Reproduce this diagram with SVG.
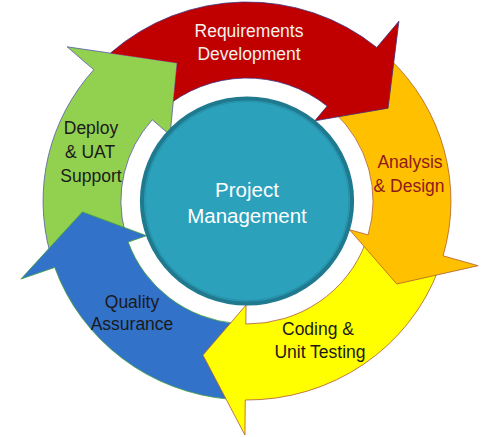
<svg xmlns="http://www.w3.org/2000/svg" width="500" height="437" viewBox="0 0 500 437">
<style>
.lbl{font-family:'Liberation Sans',Arial,sans-serif;font-size:17.5px;text-anchor:middle}
.arrow{stroke-width:0.8;stroke-linejoin:miter}
</style>
<defs>
<clipPath id="noGreenHead" clipPathUnits="userSpaceOnUse">
<path clip-rule="evenodd" d="M-300,-300H300V300H-300Z M-175.5,-154.2 L-68.2,-138.1 L-75.1,-66.0 Z"/>
</clipPath>
</defs>
<rect width="500" height="437" fill="#ffffff"/>
<g id="deploy">
<g transform="translate(247 201) scale(1.025 1)">
<path class="arrow" fill="#92D050" stroke="#5A5AA8" d="M-192.2,51.5 A199,199 0 0 1 -149.5,-131.3 L-175.5,-154.2 L-68.2,-138.1 L-75.1,-66.0 L-92.4,-81.2 A123,123 0 0 0 -118.8,31.8 Z"/>
</g>
<text class="lbl" fill="#1A1A1A" x="91" y="134">Deploy</text>
<text class="lbl" fill="#1A1A1A" x="90" y="158">&amp; UAT</text>
<text class="lbl" fill="#1A1A1A" x="91" y="182">Support</text>
</g>
<g id="quality">
<g transform="translate(247 201) scale(1.025 1)">
<path class="arrow" fill="#3372C9" stroke="#3FA040" d="M-17.3,198.2 A199,199 0 0 1 -187.6,66.4 L-220.6,78.1 L-160.6,10.9 L-98.0,34.7 L-115.9,41.1 A123,123 0 0 0 -10.7,122.5 Z"/>
</g>
<text class="lbl" fill="#1A1A1A" x="132" y="308">Quality</text>
<text class="lbl" fill="#1A1A1A" x="132" y="330">Assurance</text>
</g>
<g id="coding">
<g transform="translate(247 201) scale(1.025 1)">
<path class="arrow" fill="#FFFF00" stroke="#B05A3A" d="M187.0,68.1 A199,199 0 0 1 -1.7,199.0 L-2.0,234.0 L-43.0,154.1 L-0.9,104.0 L-1.1,123.0 A123,123 0 0 0 115.6,42.1 Z"/>
</g>
<text class="lbl" fill="#1A1A1A" x="318" y="335">Coding &amp;</text>
<text class="lbl" fill="#1A1A1A" x="320" y="358">Unit Testing</text>
</g>
<g id="analysis">
<g transform="translate(247 201) scale(1.025 1)">
<path class="arrow" fill="#FFC000" stroke="#B0602A" d="M138.2,-143.1 A199,199 0 0 1 191.3,54.8 L225.5,64.7 L146.1,83.0 L100.0,28.7 L118.2,33.9 A123,123 0 0 0 85.4,-88.5 Z"/>
</g>
<text class="lbl" fill="#8E1A1A" x="410" y="168">Analysis</text>
<text class="lbl" fill="#8E1A1A" x="409" y="192">&amp; Design</text>
</g>
<g id="requirements">
<g transform="translate(247 201) scale(1.025 1)">
<path class="arrow" fill="#C00000" stroke="#40307A" clip-path="url(#noGreenHead)" d="M-133.2,-147.9 A199,199 0 0 1 126.6,-153.5 L148.2,-179.8 L137.6,-92.8 L66.2,-80.2 L78.2,-94.9 A123,123 0 0 0 -82.3,-91.4 Z"/>
</g>
<text class="lbl" fill="#F4F0EC" x="249" y="37">Requirements</text>
<text class="lbl" fill="#F4F0EC" x="249" y="60">Development</text>
</g>
<g id="project-management">
<g transform="translate(247 201) scale(1.025 1)">
<circle r="102.5" fill="#2BA1BC" stroke="#1F7A8F" stroke-width="4"/>
<circle r="99.5" fill="none" stroke="#2890A8" stroke-width="1"/>
</g>
<text class="lbl" fill="#FFFFFF" style="font-size:20.5px" x="247" y="197">Project</text>
<text class="lbl" fill="#FFFFFF" style="font-size:20.5px" x="247" y="223">Management</text>
</g>
</svg>
